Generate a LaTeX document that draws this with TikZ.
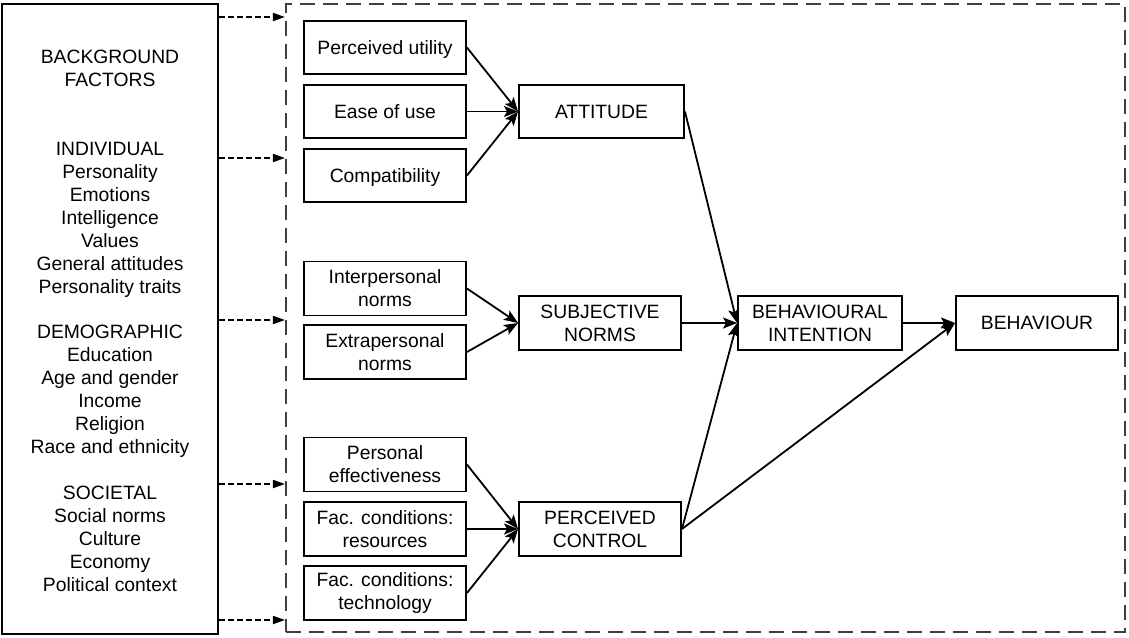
\documentclass[tikz,border=0pt]{standalone}
\usepackage{fontspec}
\setmainfont{Liberation Sans}
\usetikzlibrary{arrows.meta}
\begin{document}
\begin{tikzpicture}[x=1pt,y=-1pt,
  font=\fontsize{19.3pt}{23pt}\selectfont,
  box/.style={draw=black,line width=1.9pt,rectangle,inner sep=0pt,align=center},
  oneline/.style={text depth=0pt},
  smallbox/.style={box,minimum width=162pt,minimum height=54pt},
  midbox/.style={box,minimum width=164pt,minimum height=54pt},
  link/.style={line width=1.8pt,-{Stealth[length=14pt,width=11pt,inset=3pt]}},
  dasharrow/.style={line width=1.8pt,dash pattern=on 5.5pt off 3.5pt,-{Triangle[length=12pt,width=8pt]}},
  frame/.style={draw=black!75,line width=2.1pt,dash pattern=on 15pt off 8pt,inner sep=0pt}]
\useasboundingbox (0,0) rectangle (1129,637);

% background factors panel
\node[box,line width=2pt,minimum width=216pt,minimum height=630pt] (bg) at (110,319) {};
\node[align=center,inner sep=0pt] (bgtext) at (110,320.5) {BACKGROUND\\FACTORS\\[46pt]
INDIVIDUAL\\Personality\\Emotions\\Intelligence\\Values\\General attitudes\\Personality traits\\[22pt]
DEMOGRAPHIC\\Education\\Age and gender\\Income\\Religion\\Race and ethnicity\\[23pt]
SOCIETAL\\Social norms\\Culture\\Economy\\Political context};

% dashed frame around the model
\node[frame,minimum width=839pt,minimum height=628pt] (fr) at (705.5,318) {};

% influences of the background factors
\foreach \yy in {17,158,320,484,620}
  \draw[dasharrow] (bg.east |- 0,\yy) -- (fr.west |- 0,\yy);

% determinants
\node[smallbox,oneline,minimum height=53pt] (pu) at (385,47.5) {Perceived utility};
\node[smallbox,oneline,minimum height=53pt] (eu) at (385,111.5) {Ease of use};
\node[smallbox,oneline,minimum height=53pt] (co) at (385,175.5) {Compatibility};
\node[smallbox] (ip) at (385,288.5) {Interpersonal\\norms};
\node[smallbox] (ep) at (385,352) {Extrapersonal\\norms};
\node[smallbox] (pe) at (385,464.5) {Personal\\effectiveness};
\node[smallbox] (rs) at (385,529) {Fac. conditions:\\resources};
\node[smallbox] (te) at (385,593) {Fac. conditions:\\technology};

% constructs
\node[midbox,oneline,minimum width=165pt,minimum height=53pt] (att) at (601.5,111.5) {ATTITUDE};
\node[midbox,minimum width=162pt] (sn) at (600,323) {SUBJECTIVE\\NORMS};
\node[midbox,minimum width=162pt] (pc) at (600,529) {PERCEIVED\\CONTROL};
\node[midbox] (bi) at (820,323) {BEHAVIOURAL\\INTENTION};
\node[midbox,oneline,minimum width=162pt] (beh) at (1037,323) {BEHAVIOUR};

% relations
\draw[link] (pu.east) -- (att.west);
\draw[link] (eu.east) -- (att.west);
\draw[link] (co.east) -- (att.west);
\draw[link] (ip.east) -- (sn.west);
\draw[link] (ep.east) -- (sn.west);
\draw[link] (pe.east) -- (pc.west);
\draw[link] (rs.east) -- (pc.west);
\draw[link] (te.east) -- (pc.west);
\draw[link] (att.east) -- (bi.west);
\draw[link] (sn.east) -- (bi.west);
\draw[link] (pc.east) -- (bi.west);
\draw[link] (pc.east) -- (beh.west);
\draw[link] (bi.east) -- (beh.west);
\end{tikzpicture}
\end{document}
